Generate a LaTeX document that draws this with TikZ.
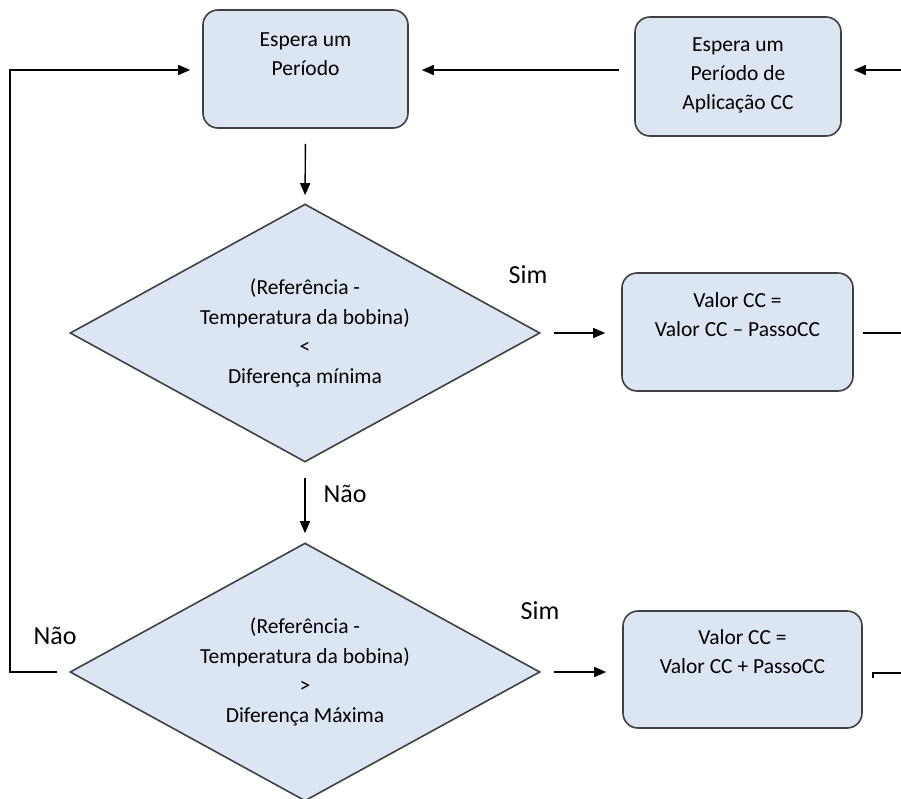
\documentclass[tikz,border=0pt]{standalone}
\usepackage{fontspec}
\setmainfont{Carlito}
\usetikzlibrary{shapes.geometric,arrows.meta}
\definecolor{boxfill}{HTML}{DCE6F2}
\definecolor{boxline}{HTML}{404040}
\begin{document}
\begin{tikzpicture}[x=1pt,y=-1pt,
  procbox/.style={draw=boxline,line width=1.6pt,fill=boxfill,rounded corners=15pt,inner sep=0pt},
  decis/.style={draw=boxline,line width=1.6pt,fill=boxfill,diamond,aspect=1.82,inner sep=0pt,
     minimum width=470pt,minimum height=258pt,align=center,font=\fontsize{21.5}{29.5}\selectfont},
  btext/.style={align=center,font=\fontsize{21.5}{29}\selectfont,inner sep=0pt},
  lbl/.style={font=\fontsize{26}{30}\selectfont,inner sep=0pt},
  arr/.style={line width=1.4pt,-{Triangle[length=12pt,width=10pt]}},
  plain/.style={line width=1.4pt}]
\useasboundingbox (0,0) rectangle (901,798);
% boxes
\node[procbox,minimum width=205pt,minimum height=118pt] (b1) at (305.5,69) {};
\node[btext] (b1t) at (305.5,54) {Espera um\\Período};
\node[procbox,minimum width=206pt,minimum height=119pt] (b2) at (738,76.5) {};
\node[btext] (b2t) at (738,75) {Espera um\\Período de\\Aplicação CC};
\node[procbox,minimum width=231pt,minimum height=118pt] (b3) at (737.5,332) {};
\node[btext] (b3t) at (737.5,315) {Valor CC =\\Valor CC – PassoCC};
\node[procbox,minimum width=239pt,minimum height=117pt] (b4) at (742.5,669.5) {};
\node[btext] (b4t) at (742.5,652) {Valor CC =\\Valor CC + PassoCC};
% diamonds
\node[decis] (d1) at (305,333) {(Referência -\\Temperatura da bobina)\\<\\Diferença mínima};
\node[decis] (d2) at (305,672) {(Referência -\\Temperatura da bobina)\\>\\Diferença Máxima};
% labels
\node[lbl] (s1) at (528,275) {Sim};
\node[lbl] (s2) at (540,611) {Sim};
\node[lbl] (n1) at (345,494) {Não};
\node[lbl] (n2) at (55,636) {Não};
% free ends
\coordinate (inR) at (901,70);
\coordinate (out3) at (901,333);
\coordinate (out4) at (901,673);
\coordinate (loopB) at (10,672);
\coordinate (loopT) at (10,70);
% connectors
\draw[arr,shorten >=12pt] (inR) -- (b2.east |- inR);
\draw[arr,shorten <=15pt,shorten >=13pt] (b2.west |- inR) -- (b1.east |- inR);
\draw[arr,shorten <=15pt,shorten >=8pt] (b1.south) -- (d1.north);
\draw[arr,shorten <=13pt,shorten >=16pt] (d1.east) -- (b3.west |- d1.east);
\draw[plain,shorten <=9pt] (b3.east |- out3) -- (out3);
\draw[arr,shorten <=15pt,shorten >=9pt] (d1.south) -- (d2.north);
\draw[arr,shorten <=13pt,shorten >=16pt] (d2.east) -- (b4.west |- d2.east);
\draw[plain] ([xshift=10pt,yshift=-5pt]b4.east |- out4) -- ([xshift=10pt]b4.east |- out4) -- (out4);
\draw[arr,shorten >=12pt] ([xshift=-12pt]d2.west) -- (loopB) -- (loopT) -- (b1.west |- loopT);
\end{tikzpicture}
\end{document}
